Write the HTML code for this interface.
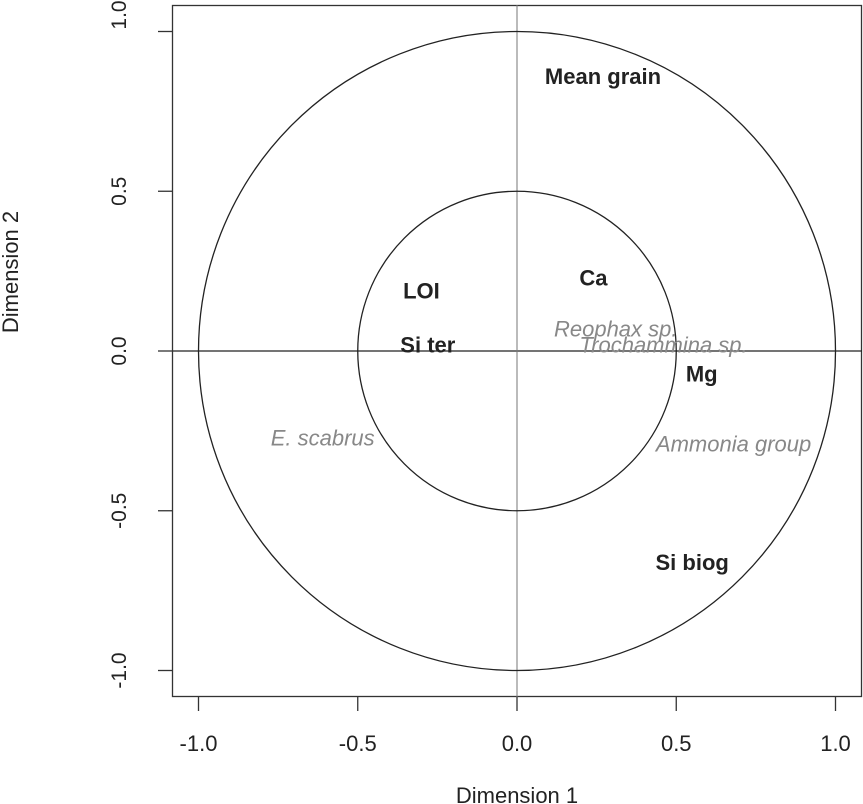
<!DOCTYPE html>
<html><head><meta charset="utf-8"><style>body{margin:0;background:#fff}svg{display:block;font-family:"Liberation Sans",Arial,sans-serif}</style></head>
<body>
<svg id="chart" width="863" height="804">
<rect x="172.5" y="5.5" width="689" height="691" fill="none" stroke="#333" stroke-width="1.3"/>
<g id="axes"></g>
<g id="marks"></g>
<text x="517" y="803" font-size="22" text-anchor="middle" fill="#222">Dimension  1</text>
<text transform="translate(18,272) rotate(-90)" font-size="22" text-anchor="middle" fill="#222">Dimension  2</text>
</svg>
<script>
const xTicks=[-1.0,-0.5,0.0,0.5,1.0];
const yTicks=[-1.0,-0.5,0.0,0.5,1.0];
const circleRadii=[1.0,0.5];
const varLabels=["Mean grain","Ca","LOI","Si ter","Mg","Si biog"];
const varX=[0.27,0.24,-0.30,-0.28,0.58,0.55];
const varY=[0.86,0.23,0.19,0.02,-0.07,-0.66];
const spLabels=["Reophax sp.","Trochammina sp.","E. scabrus","Ammonia group"];
const spX=[0.31,0.46,-0.61,0.68];
const spY=[0.07,0.02,-0.27,-0.29];
const sx=v=>517+v*318.5, sy=v=>351-v*319.5;
const NS="http://www.w3.org/2000/svg";
const ax=document.getElementById('axes'), mk=document.getElementById('marks');
function el(t,a,p){const e=document.createElementNS(NS,t);for(const k in a)e.setAttribute(k,a[k]);p.appendChild(e);return e;}
xTicks.forEach(v=>{
 const l=el('line',{x1:sx(v),x2:sx(v),y1:697,y2:711,stroke:'#333','stroke-width':1.3},ax);
 
 
 const t=el('text',{x:sx(v),y:751,'font-size':22,'text-anchor':'middle',fill:'#222'},ax);t.textContent=v.toFixed(1);
 
 
});
yTicks.forEach(v=>{
 const l=el('line',{x1:158,x2:172,y1:sy(v),y2:sy(v),stroke:'#333','stroke-width':1.3},ax);
 
 
 const cy=v===1?15:sy(v);
 const t=el('text',{transform:`translate(126,${cy}) rotate(-90)`,'font-size':21,'text-anchor':'middle',fill:'#222'},ax);t.textContent=v.toFixed(1);
 
 
});
let l=el('line',{x1:173,x2:862,y1:sy(0),y2:sy(0),stroke:'#222','stroke-width':1.3},ax);


l=el('line',{x1:sx(0),x2:sx(0),y1:5,y2:697,stroke:'#777','stroke-width':1},ax);


circleRadii.forEach(r=>{
 const c=el('ellipse',{cx:sx(0),cy:sy(0),rx:sx(r)-sx(0),ry:sy(0)-sy(r),fill:'none',stroke:'#222','stroke-width':1.3},mk);
 
 
});
varLabels.forEach((s,i)=>{
 const t=el('text',{x:sx(varX[i]),y:sy(varY[i])+8,'font-size':22,'font-weight':'bold','text-anchor':'middle',fill:'#222'},mk);t.textContent=s;
 
 
});
spLabels.forEach((s,i)=>{
 const t=el('text',{x:sx(spX[i]),y:sy(spY[i])+8,'font-size':22,'font-style':'italic','text-anchor':'middle',fill:'#888'},mk);t.textContent=s;
 
 
});
</script>
</body></html>
